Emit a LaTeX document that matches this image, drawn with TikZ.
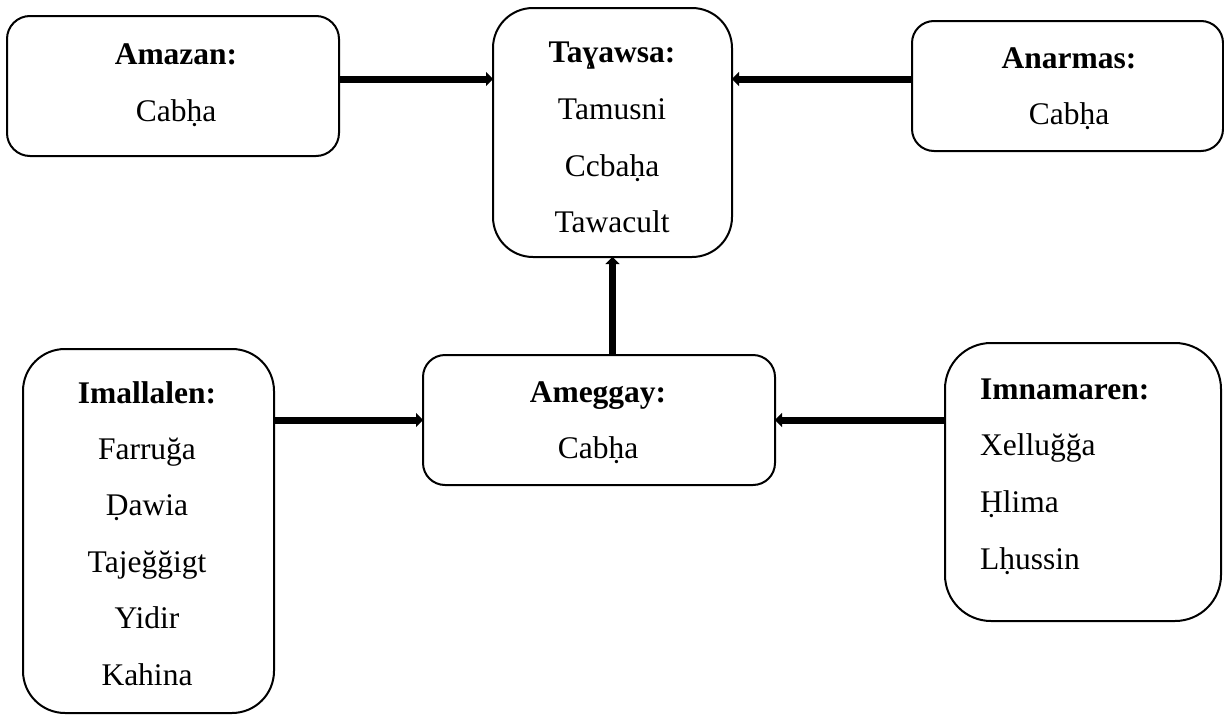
\documentclass[tikz,border=0pt]{standalone}
\usepackage{fontspec}
\setmainfont{Liberation Serif}
\usetikzlibrary{arrows.meta,calc}
\tikzset{
  box/.style={draw, line width=2pt, inner sep=0pt, outer sep=0pt},
  txt/.style={anchor=base, inner sep=0pt, font=\fontsize{31.5}{36}\selectfont},
  ttl/.style={txt, font=\fontsize{31.5}{36}\selectfont\bfseries},
  arr/.style={line width=7pt, -{Triangle[length=7pt,width=14pt]}},
}
\begin{document}
\begin{tikzpicture}[x=1pt,y=-1pt]
\useasboundingbox (0,0) rectangle (1224,715);
% boxes
\node[box, minimum width=332pt, minimum height=140pt, rounded corners=23pt] (amazan) at (173,86) {};
\node[box, minimum width=239pt, minimum height=249pt, rounded corners=40pt] (tayawsa) at (612.5,132.5) {};
\node[box, minimum width=311pt, minimum height=130pt, rounded corners=22pt] (anarmas) at (1067.5,86) {};
\node[box, minimum width=352pt, minimum height=130pt, rounded corners=22pt] (ameggay) at (599,420) {};
\node[box, minimum width=251pt, minimum height=364pt, rounded corners=42pt] (imallalen) at (148.5,531) {};
\node[box, minimum width=276pt, minimum height=278pt, rounded corners=46pt] (imnamaren) at (1083,482) {};
% texts
\node[ttl] (amazan1) at (176,64) {Amazan:};
\node[txt] (amazan2) at (176,121) {Cabḥa};
\node[ttl] (tayawsa1) at (612,62) {Taɣawsa:};
\node[txt] (tayawsa2) at (612,119) {Tamusni};
\node[txt] (tayawsa3) at (612,176) {Ccbaḥa};
\node[txt] (tayawsa4) at (612,232) {Tawacult};
\node[ttl] (anarmas1) at (1069,68) {Anarmas:};
\node[txt] (anarmas2) at (1069,124) {Cabḥa};
\node[ttl] (ameggay1) at (598,402) {Ameggay:};
\node[txt] (ameggay2) at (598,458) {Cabḥa};
\node[ttl] (imallalen1) at (147,403) {Imallalen:};
\node[txt] (imallalen2) at (147,459) {Farruğa};
\node[txt] (imallalen3) at (147,515) {Ḍawia};
\node[txt] (imallalen4) at (147,572) {Tajeğğigt};
\node[txt] (imallalen5) at (147,628) {Yidir};
\node[txt] (imallalen6) at (147,685) {Kahina};
\node[ttl, anchor=base west] (imnamaren1) at (980,399) {Imnamaren:};
\node[txt, anchor=base west] (imnamaren2) at (980,455) {Xelluğğa};
\node[txt, anchor=base west] (imnamaren3) at (980,512) {Ḥlima};
\node[txt, anchor=base west] (imnamaren4) at (980,569) {Lḥussin};
% connectors
\coordinate (c1) at ([yshift=7pt]amazan.east);
\coordinate (c2) at ([yshift=7pt]anarmas.west);
\draw[arr] (c1) -- (c1 -| tayawsa.west);
\draw[arr] (c2) -- (c2 -| tayawsa.east);
\draw[arr] (tayawsa.south |- ameggay.north) -- (tayawsa.south);
\draw[arr] (imallalen.east |- ameggay.west) -- (ameggay.west);
\draw[arr] (imnamaren.west |- ameggay.east) -- (ameggay.east);
\end{tikzpicture}
\end{document}
